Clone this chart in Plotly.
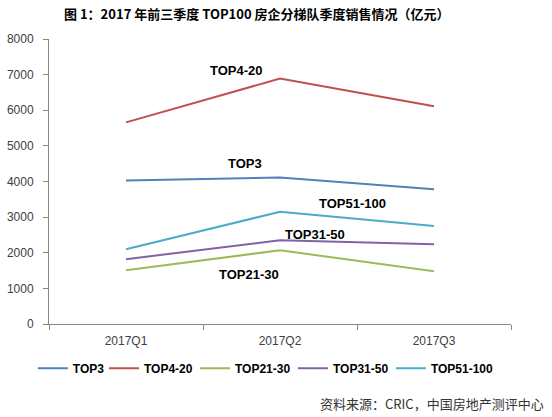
import plotly.graph_objects as go

quarters = ["2017Q1", "2017Q2", "2017Q3"]
series_names = ["TOP3", "TOP4-20", "TOP21-30", "TOP31-50", "TOP51-100"]
top3 = [4030, 4110, 3780]
top4_20 = [5660, 6890, 6110]
top21_30 = [1510, 2070, 1480]
top31_50 = [1820, 2350, 2240]
top51_100 = [2100, 3150, 2750]
y_ticks = [0, 1000, 2000, 3000, 4000, 5000, 6000, 7000, 8000]

colors = ["#4F81BD", "#C0504D", "#9BBB59", "#8064A2", "#4BACC6"]
values = [top3, top4_20, top21_30, top31_50, top51_100]

# one small legend per series so the spacing can follow the label widths
legend_ids = ["legend", "legend2", "legend3", "legend4", "legend5"]
legend_x = [-0.035, 0.119, 0.316, 0.528, 0.740]

fig = go.Figure()
for name, vals, col, lid in zip(series_names, values, colors, legend_ids):
    fig.add_trace(go.Scatter(
        x=quarters, y=vals, name=name, mode="lines",
        line=dict(color=col, width=2), legend=lid,
    ))

# in-chart labels (x in category units, y in data units)
label_pos = {
    "TOP4-20": (0.72, 7110),
    "TOP3": (0.77, 4510),
    "TOP51-100": (1.47, 3390),
    "TOP31-50": (1.23, 2520),
    "TOP21-30": (0.80, 1400),
}
for name, (lx, ly) in label_pos.items():
    fig.add_annotation(x=lx, y=ly, text="<b>%s</b>" % name, showarrow=False,
                       font=dict(family="Liberation Sans", size=13, color="black"))

fig.add_annotation(
    text="<b>图 1：2017 年前三季度 TOP100 房企分梯队季度销售情况（亿元）</b>",
    xref="paper", yref="paper", x=0.45, y=1, yshift=26, showarrow=False,
    font=dict(family="Noto Sans CJK SC", size=13, color="black"),
    xanchor="center", yanchor="middle",
)
fig.add_annotation(
    text="资料来源：CRIC，中国房地产测评中心",
    xref="paper", yref="paper", x=0.582, y=0, yshift=-79, showarrow=False,
    font=dict(family="Noto Sans CJK SC", size=13, color="#333333"),
    xanchor="left", yanchor="middle",
)

legend_style = dict(
    orientation="h", xanchor="left", y=-0.155, yanchor="middle",
    font=dict(family="Liberation Sans", size=12, color="black", weight="bold"),
    itemwidth=30, bgcolor="rgba(0,0,0,0)",
)
legends = {lid: dict(legend_style, x=lx) for lid, lx in zip(legend_ids, legend_x)}

fig.update_layout(
    width=552, height=417,
    margin=dict(l=49, r=41, t=39, b=93, autoexpand=False),
    plot_bgcolor="white", paper_bgcolor="white",
    font=dict(family="Liberation Sans", size=12, color="#404040"),
    showlegend=True,
    xaxis=dict(
        type="category", range=[-0.5, 2.5], tickson="boundaries",
        showline=True, linecolor="#868686", linewidth=1,
        ticks="outside", ticklen=5, tickcolor="#868686",
        showgrid=False, zeroline=False, ticklabelstandoff=6,
    ),
    yaxis=dict(
        range=[0, 8000], tickvals=y_ticks,
        showline=True, linecolor="#868686", linewidth=1,
        ticks="outside", ticklen=5, tickcolor="#868686",
        showgrid=False, zeroline=False, ticklabelstandoff=7,
    ),
    **legends,
)

# drop the browser's default 8px body margin so the figure fills the window
fig.write_html("out.html", config={"displayModeBar": False},
               post_script="document.body.style.margin='0px';")
